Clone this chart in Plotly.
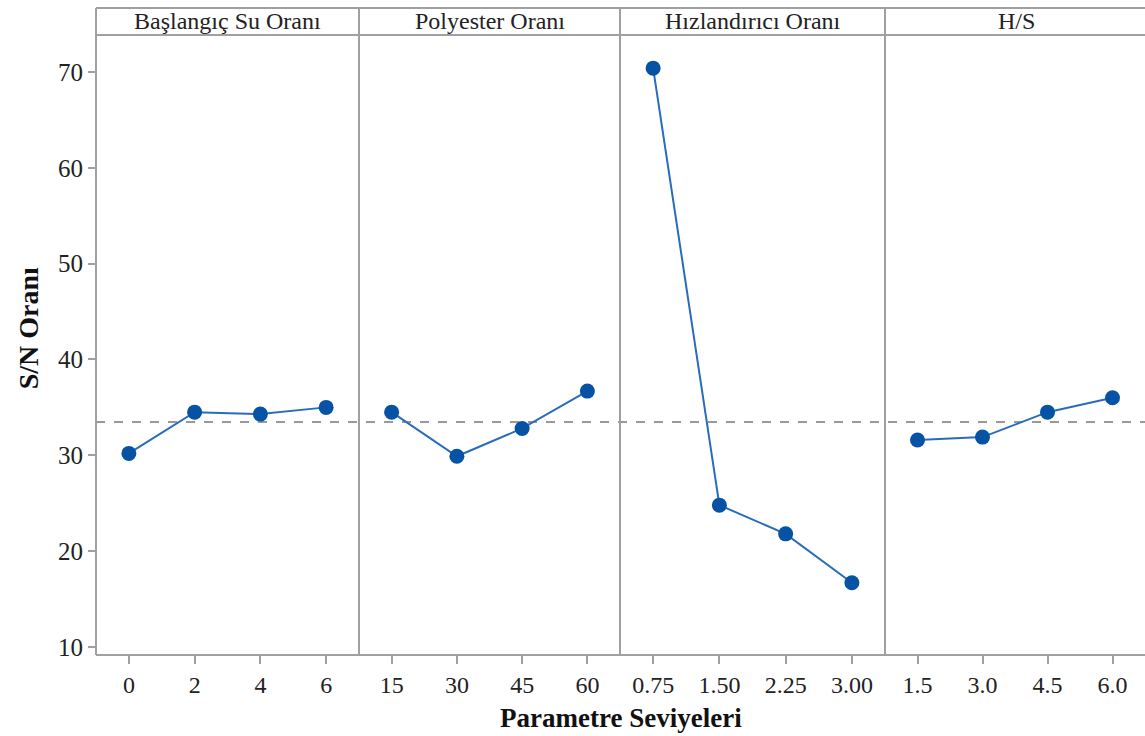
import plotly.graph_objects as go

# Main effects of each factor on the S/N ratio
factors = ["Başlangıç Su Oranı", "Polyester Oranı", "Hızlandırıcı Oranı", "H/S"]
levels = [
    ["0", "2", "4", "6"],
    ["15", "30", "45", "60"],
    ["0.75", "1.50", "2.25", "3.00"],
    ["1.5", "3.0", "4.5", "6.0"],
]
sn_su = [30.2, 34.5, 34.3, 35.0]
sn_polyester = [34.5, 29.9, 32.8, 36.7]
sn_hizlandirici = [70.4, 24.8, 21.8, 16.7]
sn_hs = [31.6, 31.9, 34.5, 36.0]
sn_values = [sn_su, sn_polyester, sn_hizlandirici, sn_hs]

y_ticks = [10, 20, 30, 40, 50, 60, 70]

all_vals = [v for s in sn_values for v in s]
grand_mean = sum(all_vals) / len(all_vals)

W, H = 1145, 736
m_l, m_r, m_t, m_b = 96, 0, 8, 81
plot_w = W - m_l - m_r
plot_h = H - m_t - m_b
strip_h = 27
y_top = 1 - strip_h / plot_h

panel_px = [0, 263, 524, 789, plot_w + 3]
bounds = [p / plot_w for p in panel_px]
bounds[-1] = 1.0

FONT = "Liberation Serif"
GRID = "#a0a0a0"
BLUE_MARK = "#0652a4"
BLUE_LINE = "#2a6cba"

fig = go.Figure()
layout = dict(
    width=W, height=H,
    margin=dict(l=m_l, r=m_r, t=m_t, b=m_b),
    paper_bgcolor="white", plot_bgcolor="white",
    showlegend=False,
    font=dict(family=FONT, size=24, color="#222"),
)

for i, (name, lev, vals) in enumerate(zip(factors, levels, sn_values)):
    xa = "x" if i == 0 else f"x{i+1}"
    fig.add_trace(go.Scatter(
        x=lev, y=vals, xaxis=xa, yaxis="y",
        mode="lines+markers",
        line=dict(color=BLUE_LINE, width=2),
        marker=dict(color=BLUE_MARK, size=15, symbol="circle"),
        cliponaxis=False,
    ))
    key = "xaxis" if i == 0 else f"xaxis{i+1}"
    layout[key] = dict(
        domain=[bounds[i], bounds[i + 1]],
        type="category", range=[-0.5, 3.5],
        anchor="y",
        showgrid=False, zeroline=False, showline=False,
        ticks="outside", ticklen=8, tickwidth=1.5, tickcolor=GRID,
        tickfont=dict(family=FONT, size=24, color="#222"),
        fixedrange=True,
    )
    # header strip label
    fig.add_annotation(
        x=(panel_px[i] + min(panel_px[i + 1], plot_w + 3)) / 2 / plot_w,
        y=(y_top + 1) / 2, xref="paper", yref="paper",
        text=name, showarrow=False,
        font=dict(family=FONT, size=24, color="#222"),
        xanchor="center", yanchor="middle",
    )

layout["yaxis"] = dict(
    domain=[0, y_top], range=[9.16, 73.86],
    tickvals=y_ticks,
    showgrid=False, zeroline=False, showline=False,
    ticks="outside", ticklen=7, tickwidth=1.5, tickcolor=GRID,
    tickfont=dict(family=FONT, size=25, color="#222"),
    fixedrange=True,
)
fig.update_layout(**layout)

# axis titles
fig.add_annotation(
    x=0, y=0.505, xref="paper", yref="paper", xshift=-68,
    text="<b>S/N Oranı</b>", showarrow=False, textangle=-90,
    font=dict(family=FONT, size=28, color="#111"),
    xanchor="center", yanchor="middle",
)
fig.add_annotation(
    x=0.5, y=0, xref="paper", yref="paper", yshift=-63,
    text="<b>Parametre Seviyeleri</b>", showarrow=False,
    font=dict(family=FONT, size=27, color="#111"),
    xanchor="center", yanchor="middle",
)

shapes = []
# grand mean reference line
shapes.append(dict(type="line", xref="paper", yref="y", x0=0, x1=1,
                   y0=grand_mean, y1=grand_mean,
                   line=dict(color="#999999", width=2, dash="dash"), layer="below"))
# panel frame, header strip and dividers
shapes.append(dict(type="line", xref="paper", yref="paper", x0=0, x1=1, y0=0, y1=0,
                   line=dict(color=GRID, width=2)))
shapes.append(dict(type="line", xref="paper", yref="paper", x0=0, x1=1, y0=1, y1=1,
                   line=dict(color=GRID, width=2)))
shapes.append(dict(type="line", xref="paper", yref="paper", x0=0, x1=1, y0=y_top, y1=y_top,
                   line=dict(color=GRID, width=2)))
for b in bounds[:-1]:
    shapes.append(dict(type="line", xref="paper", yref="paper", x0=b, x1=b, y0=0, y1=1,
                       line=dict(color=GRID, width=2)))
fig.update_layout(shapes=shapes)

fig.write_html("out.html", config={"displayModeBar": False})
